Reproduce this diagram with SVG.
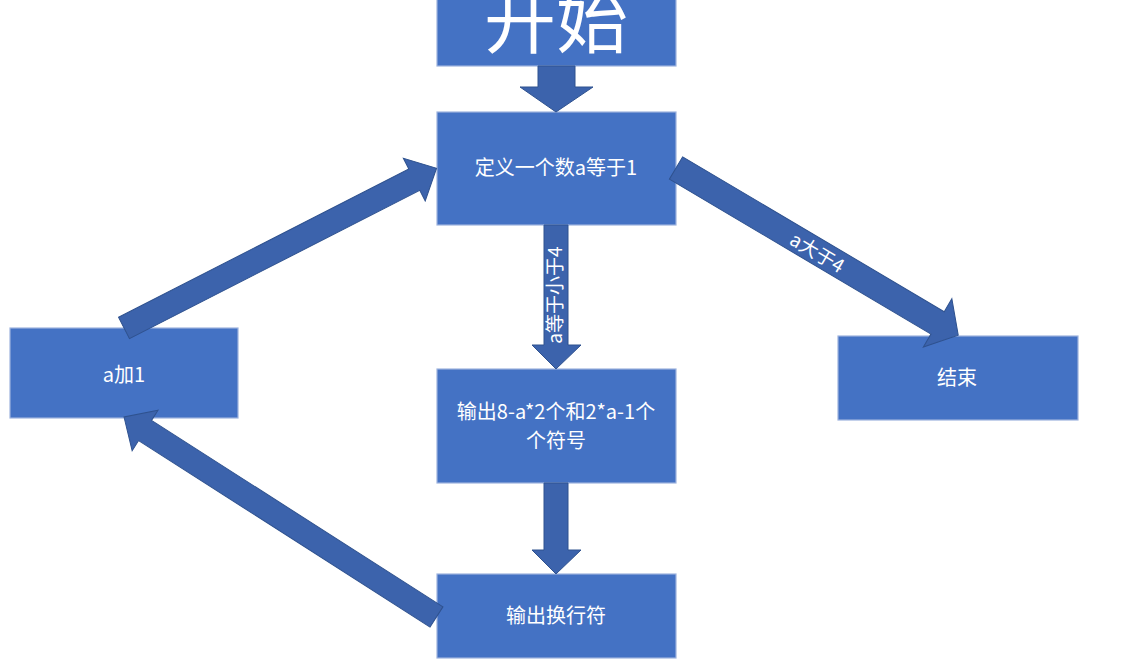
<svg xmlns="http://www.w3.org/2000/svg" width="1125" height="660" viewBox="0 0 1125 660">
<style>
.box{fill:#4472C4;stroke:#9DB3DE;stroke-width:1.2}
.arr{fill:#3C63AC;stroke:#2F528F;stroke-width:1}
.t{fill:#FFFFFF;font-family:"Noto Sans CJK SC","Noto Sans",sans-serif;font-size:20px;text-anchor:middle}
.lbl{fill:#FFFFFF;font-family:"Noto Sans CJK SC","Noto Sans",sans-serif;font-size:19px;text-anchor:middle}
</style>
<rect width="1125" height="660" fill="#FFFFFF"/>
<g id="start">
<rect class="box" x="437" y="-40" width="239" height="106"/>
<text class="t" x="556" y="47" style="font-size:72px">开始</text>
</g>
<g id="define">
<rect class="box" x="437" y="112" width="239" height="113"/>
<text class="t" x="556" y="175">定义一个数a等于1</text>
</g>
<g id="output">
<rect class="box" x="437" y="369" width="239" height="114"/>
<text class="t" x="556" y="419">输出8-a*2个和2*a-1个</text>
<text class="t" x="556" y="448">个符号</text>
</g>
<g id="newline">
<rect class="box" x="437" y="574" width="239" height="84"/>
<text class="t" x="556" y="623">输出换行符</text>
</g>
<g id="inc">
<rect class="box" x="10" y="328" width="228" height="90"/>
<text class="t" x="124" y="382">a加1</text>
</g>
<g id="end">
<rect class="box" x="838" y="336" width="240" height="84"/>
<text class="t" x="957" y="385">结束</text>
</g>
<g id="connectors">
<polygon class="arr" points="538,66 575,66 575,87 593,87 556,112 520,87 538,87"/>
<polygon class="arr" points="544,225 568,225 568,345 581,345 556,369 532,345 544,345"/>
<polygon class="arr" points="544,483 568,483 568,550 581,550 556,574 532,550 544,550"/>
<polygon class="arr" transform="translate(124,328) rotate(-27.07)" points="0,-12 326,-12 326,-24 351,0 326,24 326,12 0,12"/>
<polygon class="arr" transform="translate(676,168) rotate(30.63)" points="0,-13 304,-13 304,-28 328,0 304,28 304,13 0,13"/>
<polygon class="arr" transform="translate(436.5,617) rotate(-147.38)" points="0,-12 346,-12 346,-24 371,0 346,24 346,12 0,12"/>
<text class="lbl" transform="translate(555,295) rotate(-90)" x="0" y="6.5">a等于小于4</text>
<text class="lbl" transform="translate(817,253) rotate(30.63)" x="0" y="6.5">a大于4</text>
</g>
</svg>
